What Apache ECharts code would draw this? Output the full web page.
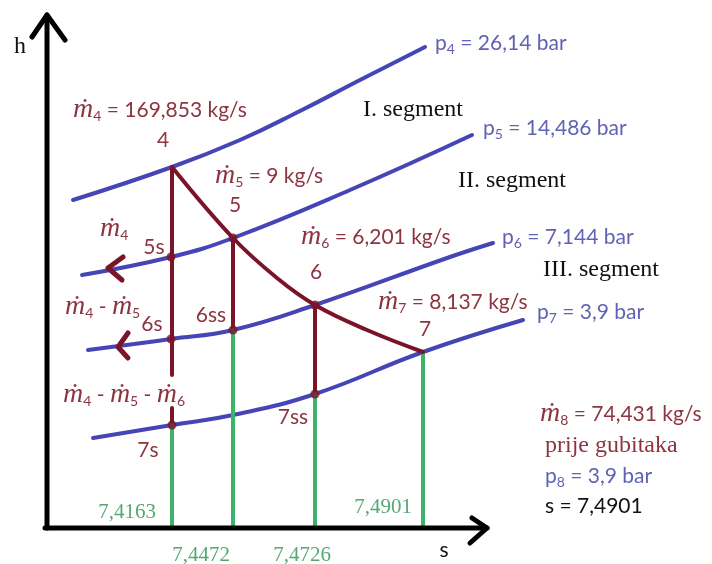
<!DOCTYPE html>
<html>
<head>
<meta charset="utf-8">
<script src="https://cdn.jsdelivr.net/npm/echarts@6/dist/echarts.min.js"></script>
<style>html,body{margin:0;padding:0;background:#fff}#c{width:712px;height:564px}</style>
</head>
<body>
<div id="c"></div>
<script>
// Schematic h-s diagram: abstract diagram units (s to the right, h upward)
const sPositions = [172, 233, 315, 423];
const sTickLabels = ['7,4163', '7,4472', '7,4726', '7,4901'];

const p4Curve = [[73,364],[172,397],[240,424],[300,453],[360,484],[425,517]];
const p5Curve = [[82,289],[171,307],[233,326],[350,374],[472,429]];
const p6Curve = [[88,214],[171,225],[233,234],[315,259],[450,307],[493,321]];
const p7Curve = [[93,126],[172,139],[233,149],[315,170],[423,212],[523,244]];
const expansionLine = [[172,397],[233,326],[277,286],[315,259],[367,234],[423,212]];

const redVerticals = [
  [[172,397],[172,189]],
  [[172,156],[172,139]],
  [[233,326],[233,234]],
  [[315,259],[315,170]]
];
const greenVerticals = [
  [[172,139],[172,36]],
  [[233,234],[233,36]],
  [[315,170],[315,36]],
  [[423,212],[423,36]]
];
const stateDots = [[171,307],[171,225],[233,234],[172,139],[315,170],[233,326],[315,259]];
const extractionArrows = [
  [[123,307],[108,296],[122,284]],
  [[128,231],[118,217],[128,206]]
];
const hAxisLine = [[47,36],[47,549]];
const sAxisLine = [[45,36],[487,36]];
const hArrow = [[32,527],[47,549],[65,524]];
const sArrow = [[472,46],[487,36],[470,21]];

const BLUE = '#4545b6', RED = '#7b1428', GREEN = '#3db36a';
const TRED = '#8c3442', TBLUE = '#6262b4', TGREEN = '#55a874';

function line(data, color, smooth, width) {
  return { type: 'line', data: data, smooth: smooth, showSymbol: false, symbol: 'none',
    lineStyle: { color: color, width: width || 4, cap: 'round', join: 'round' }, silent: true, z: 2, animation: false };
}

const series = [];
[p4Curve, p5Curve, p6Curve, p7Curve].forEach(c => series.push(line(c, BLUE, 0.45)));
redVerticals.forEach(c => series.push(line(c, RED, false)));
greenVerticals.forEach(c => series.push(line(c, GREEN, false)));
series.push(line(expansionLine, RED, 0.4));
extractionArrows.forEach(c => series.push(line(c, RED, false, 5)));
[hAxisLine, sAxisLine, hArrow, sArrow].forEach(c => series.push(line(c, '#000', false, 5)));
series.push({ type: 'scatter', data: stateDots, symbolSize: 9, itemStyle: { color: RED }, z: 5, silent: true, animation: false });

const SANS = 'Lato, "Open Sans", sans-serif';
const SERIF = '"Liberation Serif", serif';
function mdot(sub) { return '{m|ṁ}{sub|' + sub + '}'; }
const rich = {
  m: { fontFamily: SERIF, fontStyle: 'italic', fontSize: 28, verticalAlign: 'middle', lineHeight: 26 },
  sub: { fontFamily: SANS, fontSize: 14, verticalAlign: 'bottom', lineHeight: 27 },
  t: { fontFamily: SANS, fontSize: 21, verticalAlign: 'middle', lineHeight: 26 }
};

const texts = [
  // [text, x, y, color, font, align]
  [mdot(4) + '{t| = 169,853 kg/s}', 73, 110, TRED, 'rich', 'left'],
  ['4', 163, 140, TRED, 'sans', 'center'],
  [mdot(5) + '{t| = 9 kg/s}', 215, 176, TRED, 'rich', 'left'],
  ['5', 235, 205, TRED, 'sans', 'center'],
  [mdot(4), 100, 229, TRED, 'rich', 'left'],
  ['5s', 154, 247, TRED, 'sans', 'center'],
  [mdot(6) + '{t| = 6,201 kg/s}', 301, 237, TRED, 'rich', 'left'],
  ['6', 316, 272, TRED, 'sans', 'center'],
  [mdot(4) + '{t| - }' + mdot(5), 65, 307, TRED, 'rich', 'left'],
  ['6s', 152, 324, TRED, 'sans', 'center'],
  ['6ss', 211, 315, TRED, 'sans', 'center'],
  [mdot(7) + '{t| = 8,137 kg/s}', 378, 302, TRED, 'rich', 'left'],
  ['7', 425, 329, TRED, 'sans', 'center'],
  [mdot(4) + '{t| - }' + mdot(5) + '{t| - }' + mdot(6), 63, 395, TRED, 'rich', 'left'],
  ['7s', 148, 450, TRED, 'sans', 'center'],
  ['7ss', 293, 417, TRED, 'sans', 'center'],
  ['{t|p}{sub|4}{t| = 26,14 bar}', 435, 43, TBLUE, 'rich', 'left'],
  ['{t|p}{sub|5}{t| = 14,486 bar}', 483, 128, TBLUE, 'rich', 'left'],
  ['{t|p}{sub|6}{t| = 7,144 bar}', 502, 237, TBLUE, 'rich', 'left'],
  ['{t|p}{sub|7}{t| = 3,9 bar}', 537, 312, TBLUE, 'rich', 'left'],
  ['I. segment', 363, 110, '#111', 'serif', 'left'],
  ['II. segment', 458, 181, '#111', 'serif', 'left'],
  ['III. segment', 543, 270, '#111', 'serif', 'left'],
  [mdot(8) + '{t| = 74,431 kg/s}', 540, 414, TRED, 'rich', 'left'],
  ['prije gubitaka', 545, 446, TRED, 'serif', 'left'],
  ['{t|p}{sub|8}{t| = 3,9 bar}', 545, 476, TBLUE, 'rich', 'left'],
  ['s = 7,4901', 545, 506, '#111', 'sans', 'left'],
  ['h', 20, 47, '#111', 'serif', 'center'],
  ['s', 444, 550, '#111', 'sans', 'center'],
  [sTickLabels[0], 127, 512, TGREEN, 'serifnum', 'center'],
  [sTickLabels[1], 201, 555, TGREEN, 'serifnum', 'center'],
  [sTickLabels[2], 302, 555, TGREEN, 'serifnum', 'center'],
  [sTickLabels[3], 383, 507, TGREEN, 'serifnum', 'center']
];

const graphic = texts.map(([txt, x, y, color, kind, align]) => {
  const style = { text: txt, x: x, y: y, fill: color, align: align, verticalAlign: 'middle' };
  if (kind === 'rich') {
    style.rich = JSON.parse(JSON.stringify(rich));
    style.rich.m.fill = color; style.rich.sub.fill = color; style.rich.t.fill = color;
    style.font = '21px ' + SANS;
  } else if (kind === 'sans') {
    style.font = '21px ' + SANS;
  } else if (kind === 'serif') {
    style.font = '24px ' + SERIF;
  } else {
    style.font = '21px ' + SERIF;
  }
  return { type: 'text', style: style, z: 10, silent: true };
});

const chart = echarts.init(document.getElementById('c'), null, { renderer: 'canvas' });
chart.setOption({
  backgroundColor: '#fff',
  animation: false,
  grid: { left: 0, right: 0, top: 0, bottom: 0 },
  xAxis: { type: 'value', min: 0, max: 712, show: false },
  yAxis: { type: 'value', min: 0, max: 564, show: false },
  series: series,
  graphic: graphic
});
</script>
</body>
</html>
